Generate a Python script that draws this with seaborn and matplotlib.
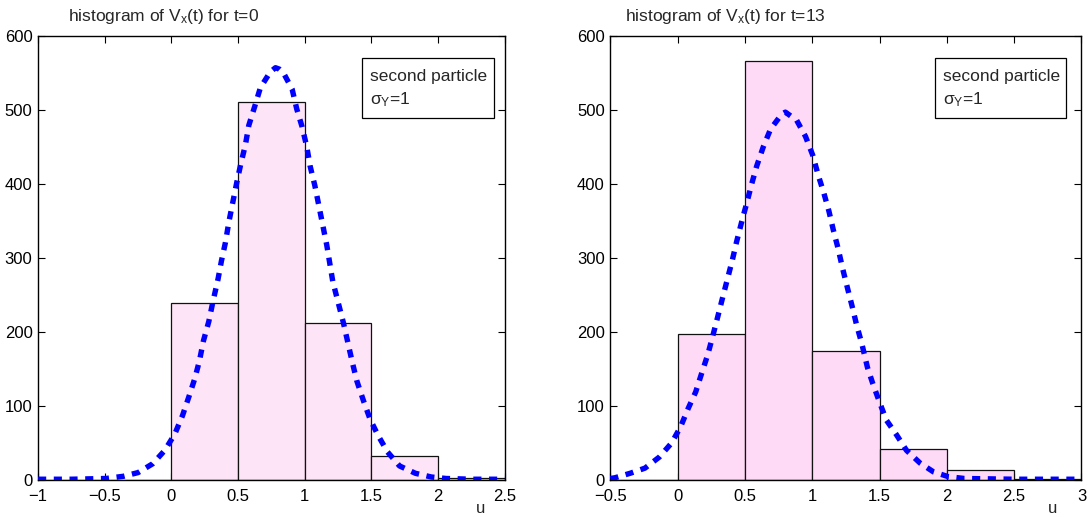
import numpy as np
import matplotlib
matplotlib.use("Agg")
import matplotlib.pyplot as plt
import seaborn as sns
from matplotlib.patches import Rectangle

# ---------------- data ----------------
bin_edges_left = [-1.0, -0.5, 0.0, 0.5, 1.0, 1.5, 2.0, 2.5]
counts_left = [0, 0, 239, 511, 212, 32, 3]

bin_edges_right = [-0.5, 0.0, 0.5, 1.0, 1.5, 2.0, 2.5, 3.0]
counts_right = [0, 197, 566, 174, 42, 13, 2]

curve_x_left = [-1.0, -0.75, -0.49, -0.36, -0.25, -0.14, -0.05, 0.025, 0.083, 0.13,
                0.175, 0.21, 0.24, 0.28, 0.31, 0.35, 0.375, 0.405, 0.43, 0.46,
                0.49, 0.52, 0.555, 0.58, 0.625, 0.667, 0.74, 0.78, 0.81, 0.84,
                0.905, 0.94, 0.98, 1.015, 1.04, 1.075, 1.105, 1.135, 1.165, 1.21,
                1.25, 1.29, 1.32, 1.355, 1.39, 1.44, 1.49, 1.55, 1.62, 1.71,
                1.83, 1.95, 2.06, 2.25, 2.5]
curve_y_left = [1, 1, 2, 5, 10, 22, 40, 62, 87, 112,
                137, 161, 188, 214, 240, 272, 296, 321, 348, 375,
                402, 427, 453, 479, 505, 530, 551, 557, 555, 550,
                528, 501, 477, 450, 424, 398, 371, 344, 317, 268,
                240, 212, 188, 160, 134, 107, 82, 60, 38, 19,
                9, 4, 2, 1, 1]

curve_x_right = [-0.5, -0.466, -0.354, -0.243, -0.136, -0.045, 0.022, 0.079, 0.134, 0.178,
                 0.223, 0.26, 0.297, 0.332, 0.369, 0.406, 0.438, 0.476, 0.513, 0.55,
                 0.587, 0.636, 0.69, 0.772, 0.80, 0.884, 0.95, 1.003, 1.044, 1.087,
                 1.124, 1.156, 1.193, 1.225, 1.262, 1.297, 1.33, 1.367, 1.41, 1.45,
                 1.5, 1.55, 1.626, 1.7, 1.8, 1.9, 2.01, 2.13, 2.5, 3.0]
curve_y_right = [2, 3, 9, 16, 31, 50, 72, 97, 119, 144,
                 169, 194, 220, 245, 271, 297, 322, 349, 374, 400,
                 424, 450, 474, 494, 497, 486, 464, 439, 412, 387,
                 363, 338, 312, 286, 259, 234, 209, 185, 152, 130,
                 105, 81, 61, 40, 23, 11, 4.5, 2, 1, 1]

titles = [r"histogram of V$_{\mathrm{x}}$(t) for t=0", r"histogram of V$_{\mathrm{x}}$(t) for t=13"]
legend_line1 = "second particle"
legend_line2 = r"$\sigma_{\mathrm{Y}}$=1"
xticks_left = [-1, -0.5, 0, 0.5, 1, 1.5, 2, 2.5]
xticks_right = [-0.5, 0, 0.5, 1, 1.5, 2, 2.5, 3]
yticks = [0, 100, 200, 300, 400, 500, 600]

# ---------------- style ----------------
sns.set_theme(style="ticks")
FONT = ["Liberation Sans Narrow", "Liberation Sans", "DejaVu Sans"]
plt.rcParams["font.family"] = FONT
plt.rcParams["mathtext.fontset"] = "custom"
plt.rcParams["mathtext.rm"] = "Liberation Sans"
plt.rcParams["mathtext.it"] = "Liberation Sans"
plt.rcParams["mathtext.sf"] = "Liberation Sans"
plt.rcParams["axes.unicode_minus"] = True

fig = plt.figure(figsize=(10.88, 5.17), dpi=100)
ax_l = fig.add_axes([0.035, 0.0716, 0.429, 0.859])
ax_r = fig.add_axes([0.561, 0.0716, 0.433, 0.859])

panels = [
    (ax_l, bin_edges_left, counts_left, curve_x_left, curve_y_left, xticks_left,
     "#fde4f6", 0.064, 0.938),
    (ax_r, bin_edges_right, counts_right, curve_x_right, curve_y_right, xticks_right,
     "#fedaf7", 0.032, 0.928),
]

for ax, edges, counts, cx, cy, xt, fc, tx, ux in panels:
    centers = [(edges[i] + edges[i + 1]) / 2 for i in range(len(counts))]
    sns.histplot(x=centers, weights=counts, bins=edges, ax=ax,
                 color=fc, edgecolor="#111111", linewidth=0.9, alpha=1.0,
                 element="bars", fill=True, zorder=2)
    sns.lineplot(x=cx, y=cy, ax=ax, color="#0000ff", linewidth=3.9, zorder=3)
    ln = ax.lines[-1]
    ln.set_linestyle((0, (1.5, 1.4)))
    ln.set_dash_capstyle("butt")

    ax.set_xlim(edges[0], edges[-1])
    ax.set_ylim(0, 600)
    ax.set_xticks(xt)
    ax.set_xticklabels([("%g" % v).replace("-", "\u2212") for v in xt])
    ax.set_yticks(yticks)
    ax.set_xlabel("")
    ax.set_ylabel("")
    ax.tick_params(direction="in", length=5, width=0.8, top=True, right=True,
                   labelsize=12, colors="black")
    ax.tick_params(axis="x", pad=6.5)
    ax.tick_params(axis="y", pad=4)
    for s in ax.spines.values():
        s.set_visible(True)
        s.set_linewidth(1.0)
        s.set_color("black")

    ax.text(tx, 1.022, titles[0] if ax is ax_l else titles[1],
            transform=ax.transAxes, ha="left", va="bottom", fontsize=12.5)
    ax.text(ux, -0.048, "u", transform=ax.transAxes, ha="left", va="top", fontsize=12)

    # annotation box
    if ax is ax_l:
        bx0, bx1 = 0.695, 0.976
    else:
        bx0, bx1 = 0.690, 0.968
    ax.add_patch(Rectangle((bx0, 0.815), bx1 - bx0, 0.950 - 0.815,
                           transform=ax.transAxes, facecolor="white",
                           edgecolor="black", linewidth=0.9, zorder=5))
    ax.text(bx0 + 0.016, 0.908, legend_line1, transform=ax.transAxes,
            ha="left", va="center", fontsize=12.5, zorder=6)
    ax.text(bx0 + 0.016, 0.856, legend_line2, transform=ax.transAxes,
            ha="left", va="center", fontsize=12.5, zorder=6)

fig.savefig("out.png", dpi=100)
